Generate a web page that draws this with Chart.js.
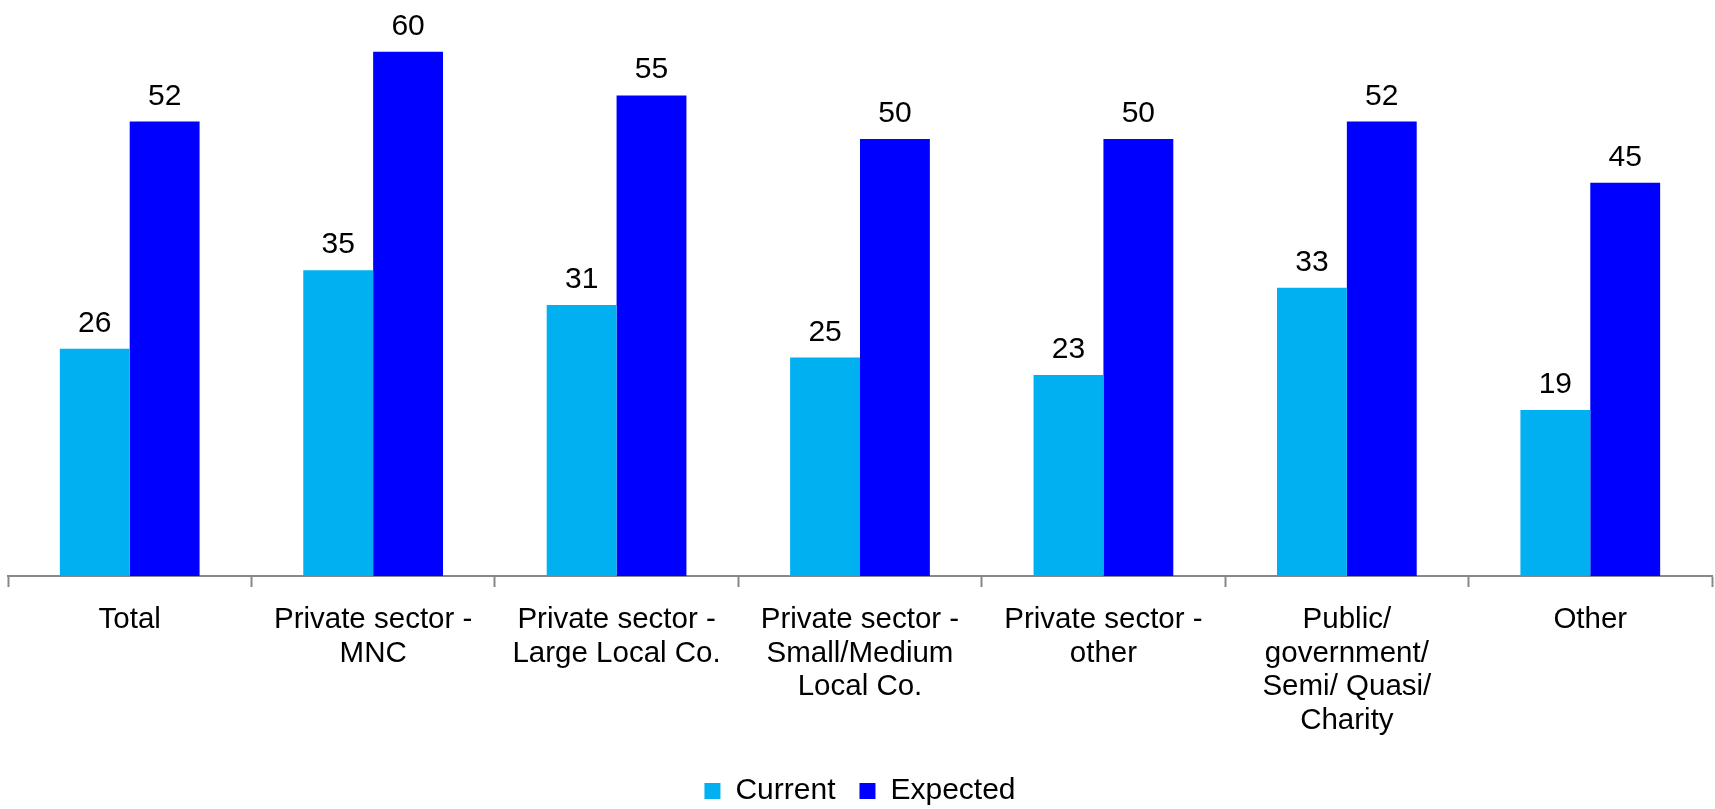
<!DOCTYPE html>
<html>
<head>
<meta charset="utf-8">
<script src="https://cdn.jsdelivr.net/npm/chart.js@4"></script>
<style>
  html, body { margin: 0; padding: 0; background: #fff; }
  #sector-chart { display: block; }
</style>
</head>
<body>
<canvas id="sector-chart" width="1715" height="809"></canvas>
<script>
const sectors = [
    'Total',
    ['Private sector -', 'MNC'],
    ['Private sector -', 'Large Local Co.'],
    ['Private sector -', 'Small/Medium', 'Local Co.'],
    ['Private sector -', 'other'],
    ['Public/', 'government/', 'Semi/ Quasi/', 'Charity'],
    'Other'
];
const currentValues = [26, 35, 31, 25, 23, 33, 19];
const expectedValues = [52, 60, 55, 50, 50, 52, 45];

const fontFamily = '"Liberation Sans", Arial, Helvetica, sans-serif';

// value above each bar
const barValueLabels = {
    id: 'barValueLabels',
    afterDatasetsDraw(chart) {
        const { ctx } = chart;
        ctx.save();
        ctx.font = `30px ${fontFamily}`;
        ctx.fillStyle = '#000';
        ctx.textAlign = 'center';
        ctx.textBaseline = 'alphabetic';
        chart.data.datasets.forEach((ds, i) => {
            chart.getDatasetMeta(i).data.forEach((bar, j) => {
                ctx.fillText(ds.data[j], bar.x, bar.y - 17);
            });
        });
        ctx.restore();
    }
};

const ctx = document.getElementById('sector-chart').getContext('2d');
const sectorChart = new Chart(ctx, {
    type: 'bar',
    data: {
        labels: sectors,
        datasets: [
            { label: 'Current', data: currentValues, backgroundColor: '#00B0F0' },
            { label: 'Expected', data: expectedValues, backgroundColor: '#0000FF' }
        ]
    },
    options: {
        responsive: false,
        animation: false,
        datasets: { bar: { categoryPercentage: 0.574, barPercentage: 1 } },
        // negative bottom padding pulls the legend row down to the edge
        layout: { padding: { top: 8, left: 8, right: 3, bottom: -7 } },
        plugins: {
            tooltip: { enabled: false },
            legend: {
                position: 'bottom',
                labels: {
                    color: '#000',
                    font: { family: fontFamily, size: 30 },
                    boxWidth: 16,
                    boxHeight: 16,
                    padding: 24
                }
            }
        },
        scales: {
            y: { display: false, min: 0, max: 65 },
            x: {
                grid: {
                    offset: true,
                    drawOnChartArea: false,
                    drawTicks: true,
                    tickLength: 11,
                    tickWidth: 2,
                    tickColor: '#888'
                },
                border: { display: true, color: '#888', width: 2 },
                ticks: {
                    color: '#000',
                    font: { family: fontFamily, size: 29.5, lineHeight: 1.14 },
                    padding: 16,
                    maxRotation: 0,
                    autoSkip: false
                },
                afterFit(scale) { scale.height = 176; }
            }
        }
    },
    plugins: [barValueLabels]
});
</script>
</body>
</html>
